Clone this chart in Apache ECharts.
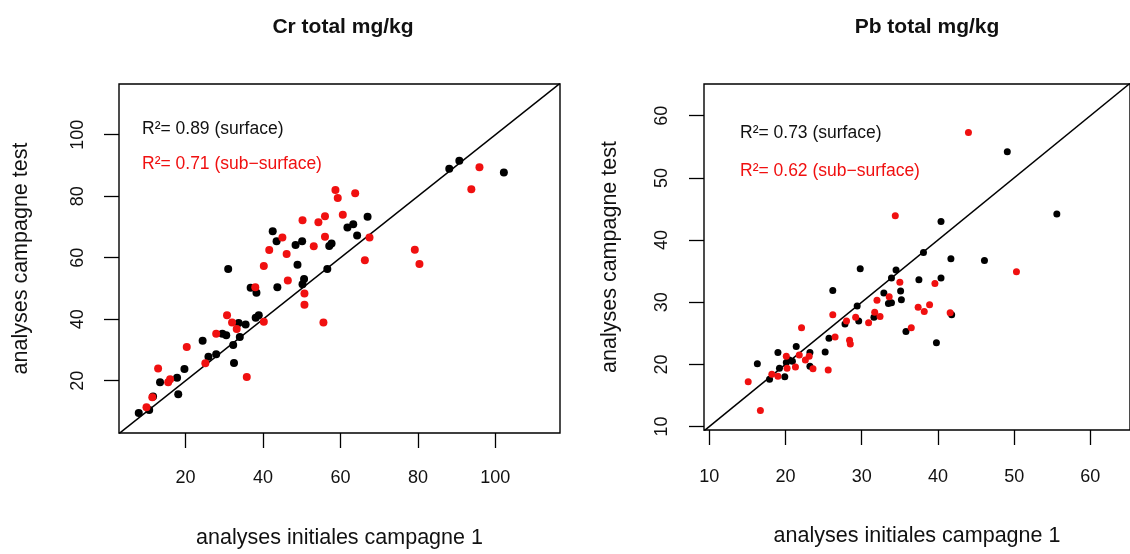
<!DOCTYPE html>
<html><head><meta charset="utf-8">
<script src="https://cdn.jsdelivr.net/npm/echarts@6/dist/echarts.min.js"></script>
<style>html,body{margin:0;padding:0;background:#fff}#c{width:1130px;height:554px}</style>
</head><body><div id="c"></div>
<script>
// ---- data ----
const crSurface = [[7.9,9.5],[10.6,10.5],[11.6,14.9],[13.4,19.5],[17.8,21.0],[18.1,15.6],[19.7,23.8],[24.4,33.0],[25.9,27.8],[27.9,28.6],[29.5,35.3],[30.5,34.8],[31.0,56.3],[32.3,31.6],[32.5,25.8],[33.7,38.8],[34.0,34.2],[35.5,38.3],[36.8,50.2],[38.3,48.6],[38.1,40.5],[38.9,41.3],[42.5,68.6],[43.5,65.4],[43.7,50.4],[48.4,64.1],[48.9,57.7],[50.1,65.4],[50.6,53.1],[50.2,51.4],[56.6,56.3],[57.1,63.8],[57.7,64.6],[61.8,69.8],[63.3,70.9],[64.3,67.2],[67.0,73.3],[88.1,88.9],[90.7,91.5],[102.2,87.7]];
const crSubSurface = [[9.9,11.4],[11.4,14.6],[12.9,24.0],[15.5,19.5],[16.0,20.5],[20.3,31.0],[25.1,25.7],[27.9,35.3],[30.7,41.3],[32.0,38.9],[33.2,36.8],[35.8,21.2],[38.0,50.4],[40.2,39.2],[40.2,57.3],[41.6,62.5],[45.0,66.6],[46.1,61.2],[46.4,52.6],[50.2,72.2],[50.7,48.4],[50.7,44.7],[53.1,63.7],[54.3,71.5],[55.6,38.9],[56.0,73.5],[56.0,66.8],[58.7,82.0],[59.3,79.4],[60.6,74.0],[63.8,81.0],[66.3,59.2],[67.5,66.6],[79.2,62.6],[80.4,58.0],[93.8,82.3],[95.9,89.4]];
const pbSurface = [[16.3,20.1],[17.9,17.6],[19.0,21.9],[19.2,19.4],[19.9,18.0],[20.1,20.3],[20.5,20.7],[20.9,20.5],[21.4,22.9],[23.2,21.9],[23.2,19.7],[25.2,22.0],[25.7,24.2],[26.2,31.9],[27.8,26.5],[29.4,29.4],[29.6,27.0],[29.8,35.4],[31.6,27.6],[32.9,31.5],[33.5,29.8],[33.9,29.9],[33.9,33.9],[34.5,35.2],[35.1,31.8],[35.2,30.4],[35.8,25.3],[37.5,33.6],[38.1,38.0],[39.8,23.5],[40.4,43.0],[40.4,33.9],[41.7,37.0],[41.8,28.0],[46.1,36.7],[49.1,54.2],[55.6,44.2]];
const pbSubSurface = [[15.1,17.2],[16.7,12.6],[18.2,18.4],[19.0,18.1],[20.1,21.3],[20.2,19.4],[21.3,19.6],[21.8,21.5],[22.1,25.9],[22.6,20.7],[23.1,21.3],[23.6,19.3],[25.6,19.1],[26.2,28.0],[26.5,24.4],[28.0,27.0],[28.4,23.9],[28.5,23.3],[29.2,27.6],[30.9,26.7],[31.7,28.4],[32.0,30.3],[32.4,27.7],[33.6,30.9],[34.4,43.9],[35.0,33.2],[36.5,25.9],[37.4,29.2],[38.2,28.5],[38.9,29.6],[39.6,33.0],[41.6,28.3],[44.0,57.3],[50.3,34.9]];
const crTicks = [20, 40, 60, 80, 100];
const pbTicks = [10, 20, 30, 40, 50, 60];
const titles = ['Cr total mg/kg', 'Pb total mg/kg'];
const xName = 'analyses initiales campagne 1';
const yName = 'analyses campagne test';
const crR2 = ['R²= 0.89 (surface)', 'R²= 0.71 (sub\u2212surface)'];
const pbR2 = ['R²= 0.73 (surface)', 'R²= 0.62 (sub\u2212surface)'];
const crRange = {x: [2.8, 116.7], y: [3.0, 116.5]};
const pbRange = {x: [9.3, 65.2], y: [9.45, 65.1]};

// ---- chart ----
const FONT = 'Liberation Sans, Arial, sans-serif';
const RED = '#f01010';
const chart = echarts.init(document.getElementById('c'));
function xAxis(idx, range, ticks, gap, margin) {
  return {type:'value', gridIndex:idx, min:range[0], max:range[1], splitLine:{show:false},
    axisLine:{show:false},
    axisTick:{show:true, inside:false, length:15, customValues:ticks, lineStyle:{color:'#000', width:1.3}},
    axisLabel:{customValues:ticks, margin:margin, fontSize:18, color:'#111', fontFamily:FONT},
    name:xName, nameLocation:'middle', nameGap:gap, nameTextStyle:{fontSize:21.5, color:'#111', fontFamily:FONT}};
}
function yAxis(idx, range, ticks, gap, margin) {
  return {type:'value', gridIndex:idx, min:range[0], max:range[1], splitLine:{show:false},
    axisLine:{show:false},
    axisTick:{show:true, inside:false, length:15, customValues:ticks, lineStyle:{color:'#000', width:1.3}},
    axisLabel:{customValues:ticks, margin:margin, rotate:90, fontSize:18, color:'#111', fontFamily:FONT, align:'center', verticalAlign:'bottom'},
    name:yName, nameLocation:'middle', nameGap:gap, nameRotate:90, nameTextStyle:{fontSize:21.5, color:'#111', fontFamily:FONT}};
}
function dots(idx, data, color, size) {
  return {type:'scatter', xAxisIndex:idx, yAxisIndex:idx, data:data, symbolSize:size,
    itemStyle:{color:color, opacity:1}, silent:true, z:3};
}
function diag(idx, lo, hi) {
  return {type:'line', xAxisIndex:idx, yAxisIndex:idx, data:[[lo,lo],[hi,hi]], symbol:'none',
    lineStyle:{color:'#000', width:1.5}, silent:true, z:2};
}
const option = {
  animation:false,
  backgroundColor:'#fff',
  title:[
    {text:titles[0], left:338, top:12, textAlign:'center', textStyle:{fontSize:21, fontWeight:'bold', color:'#111', fontFamily:FONT}},
    {text:titles[1], left:922, top:12, textAlign:'center', textStyle:{fontSize:21, fontWeight:'bold', color:'#111', fontFamily:FONT}}
  ],
  grid:[
    {left:119, top:84, width:441, height:352, show:true, borderColor:'#000', borderWidth:1.4, backgroundColor:'transparent'},
    {left:704, top:84, width:437, height:346, show:true, borderColor:'#000', borderWidth:1.4, backgroundColor:'transparent'}
  ],
  xAxis:[xAxis(0, crRange.x, crTicks, 94, 36), xAxis(1, pbRange.x, pbTicks, 95, 38)],
  yAxis:[yAxis(0, crRange.y, crTicks, 87, 32), yAxis(1, pbRange.y, pbTicks, 83, 33)],
  graphic:[
    {type:'text', left:142, top:120, style:{text:crR2[0], fill:'#111', font:'17.5px '+FONT}},
    {type:'text', left:142, top:155, style:{text:crR2[1], fill:RED, font:'17.5px '+FONT}},
    {type:'text', left:740, top:124, style:{text:pbR2[0], fill:'#111', font:'17.5px '+FONT}},
    {type:'text', left:740, top:162, style:{text:pbR2[1], fill:RED, font:'17.5px '+FONT}}
  ],
  series:[
    diag(0, crRange.x[0], crRange.x[1]),
    dots(0, crSurface, '#000', 8),
    dots(0, crSubSurface, RED, 8),
    diag(1, pbRange.x[0], pbRange.x[1]),
    dots(1, pbSurface, '#000', 7),
    dots(1, pbSubSurface, RED, 7)
  ]
};
chart.setOption(option);
</script></body></html>
